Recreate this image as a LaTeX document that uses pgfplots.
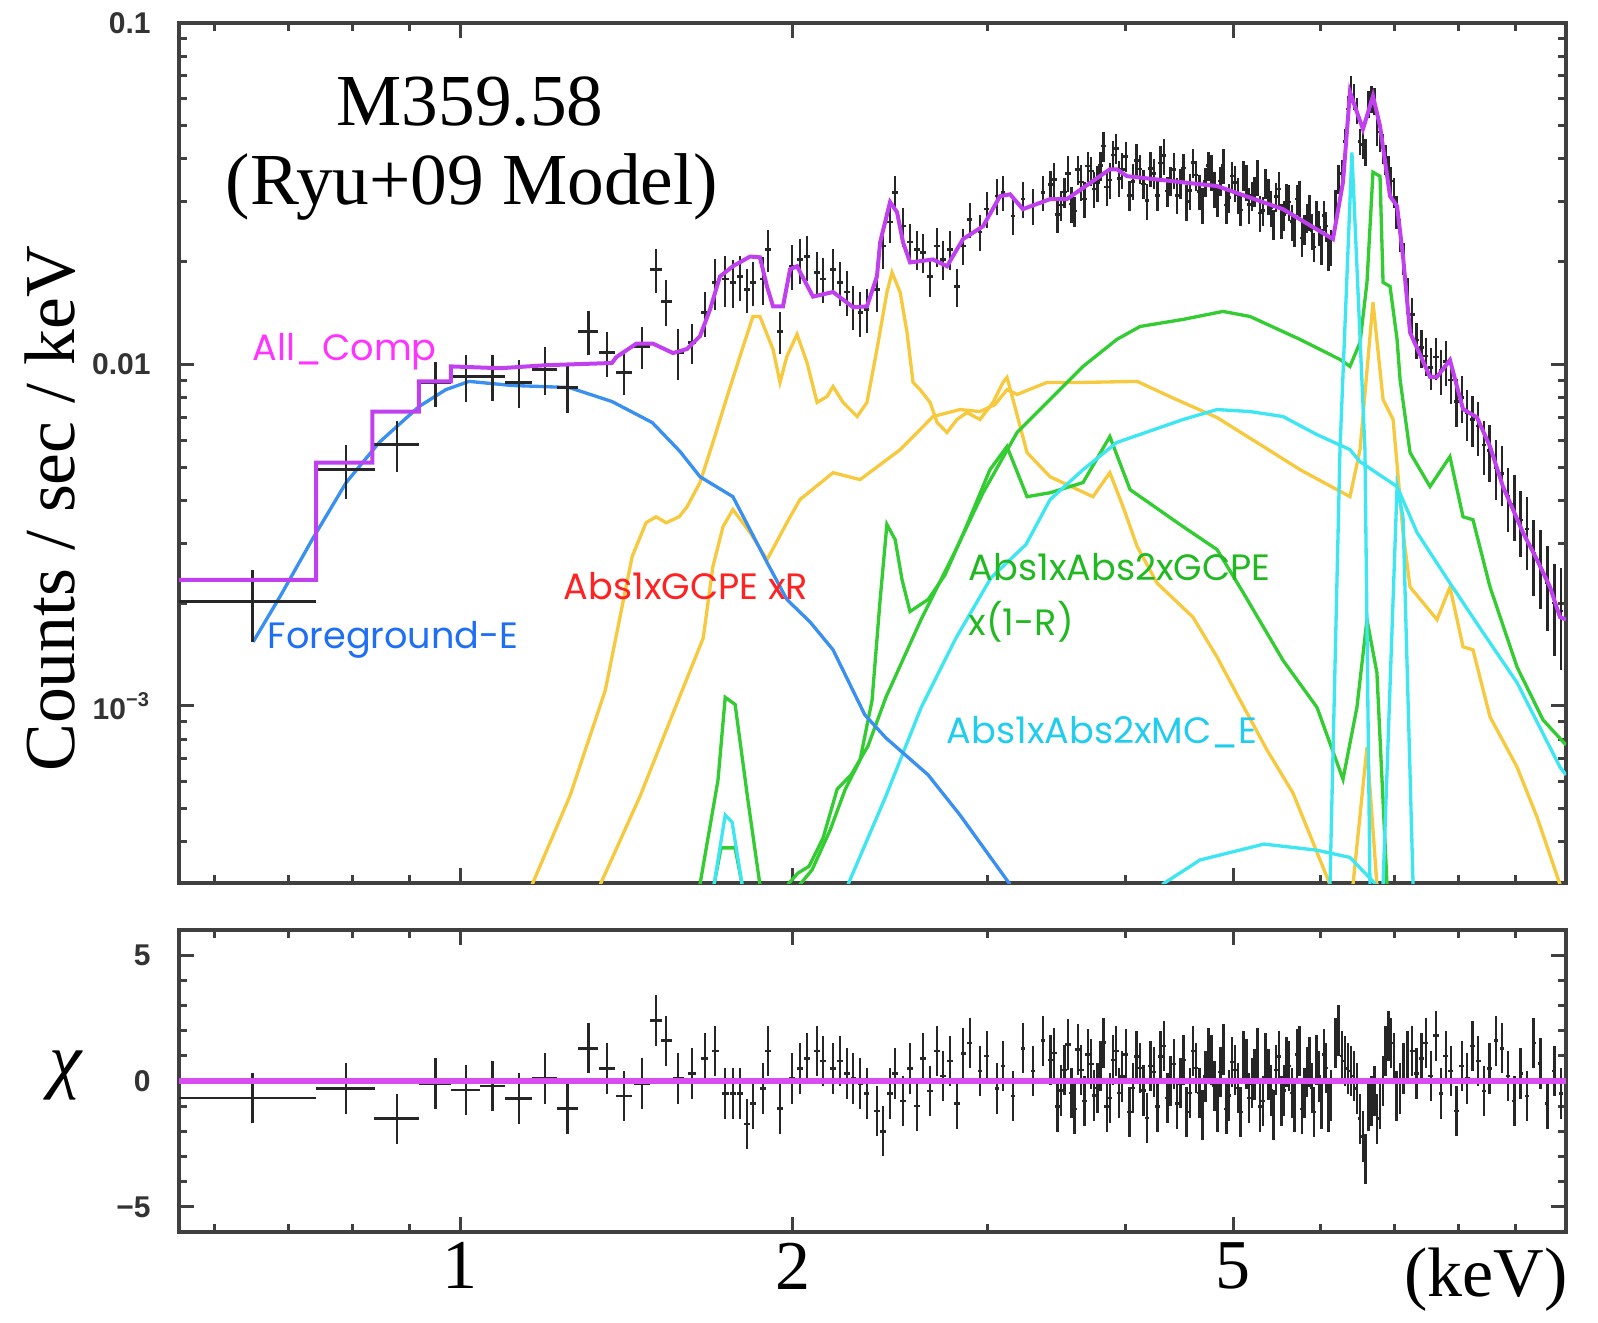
\documentclass[border=0pt]{standalone}
\usepackage{fontspec}
\setmainfont{Liberation Serif}
\newfontfamily\ticksans{Liberation Sans}
\newfontfamily\geo{Poppins}
\usepackage{pgfplots}
\pgfplotsset{compat=1.18}

\definecolor{mdl}{HTML}{C040F0}
\definecolor{mdlres}{HTML}{D94CF0}
\definecolor{lblmag}{HTML}{FF33FF}
\definecolor{fgblue}{HTML}{3A90F0}
\definecolor{fglbl}{HTML}{1F6FF5}
\definecolor{ylw}{HTML}{F7C93E}
\definecolor{grn}{HTML}{33CC33}
\definecolor{grnlbl}{HTML}{22B822}
\definecolor{cyn}{HTML}{3EE6F2}
\definecolor{cynlbl}{HTML}{22CCEE}
\definecolor{redlbl}{HTML}{FF2222}
\definecolor{axgray}{HTML}{404040}

\begin{document}
\begin{tikzpicture}
% ---------------- spectrum ----------------
\begin{axis}[name=top, scale only axis, width=416.1pt, height=258pt,
  xmode=log, xmin=0.557, xmax=10,
  ymode=log, ymin=3.03e-4, ymax=0.1,
  axis line style={line width=1pt, axgray},
  tick style={line width=0.9pt, axgray},
  major tick length=4.5pt, minor tick length=2.5pt,
  tick align=inside, xtick pos=both, ytick pos=both,
  xtick={1,2,5}, xticklabels={},
  minor xtick={0.6,0.7,0.8,0.9,3,4,6,7,8,9},
  ytick={0.001,0.01,0.1}, yticklabels={10\textsuperscript{−3},0.01,0.1},
  minor ytick={4e-4,5e-4,6e-4,7e-4,8e-4,9e-4,2e-3,3e-3,4e-3,5e-3,6e-3,7e-3,8e-3,9e-3,0.02,0.03,0.04,0.05,0.06,0.07,0.08,0.09},
  yticklabel style={font=\ticksans\bfseries\fontsize{9}{10}\selectfont, text=black!80, xshift=-5pt}]

% thermal components (yellow)
\addplot[ylw, line width=1pt] table[x=E,y=C] {
E C
1.162 0.0003
1.257 0.000545
1.353 0.00111
1.431 0.00274
1.473 0.00344
1.504 0.00358
1.536 0.00344
1.578 0.00358
1.604 0.00383
1.648 0.00451
1.693 0.00591
1.744 0.00806
1.791 0.01056
1.840 0.01382
1.867 0.01382
1.919 0.01107
1.947 0.00886
1.975 0.01056
2.017 0.01225
2.059 0.01014
2.103 0.00774
2.147 0.00806
2.174 0.00862
2.220 0.00774
2.286 0.00704
2.333 0.00774
2.382 0.01107
2.432 0.01626
2.458 0.01861
2.500 0.01626
2.536 0.01241
2.568 0.00886
2.606 0.00844
2.661 0.00774
2.700 0.00676
2.756 0.00632
2.814 0.00690
2.873 0.00723
2.952 0.00690
3.033 0.00774
3.097 0.00886
3.123 0.00916
3.162 0.00790
3.256 0.00552
3.416 0.00469
3.735 0.00410
3.869 0.00482
3.977 0.00383
4.095 0.00293
4.268 0.00229
4.599 0.00182
4.836 0.00139
5.073 0.00104
5.366 0.000743
5.664 0.000556
6.118 0.0003
};
\addplot[ylw, line width=1pt] table[x=E,y=C] {
E C
6.418 0.0003
6.608 0.000758
6.746 0.0003
};
\addplot[ylw, line width=1pt] table[x=E,y=C] {
E C
1.339 0.0003
1.455 0.000545
1.565 0.000987
1.659 0.00158
1.693 0.00256
1.729 0.00335
1.765 0.00376
1.829 0.00322
1.895 0.00268
1.975 0.00344
2.029 0.00402
2.174 0.00482
2.300 0.00460
2.500 0.00563
2.677 0.00704
2.832 0.00738
2.952 0.00728
3.046 0.00763
3.123 0.00844
3.189 0.00817
3.394 0.00886
3.659 0.00886
4.095 0.00892
4.403 0.00800
4.836 0.00699
5.289 0.00583
5.748 0.00492
6.378 0.00410
6.513 0.00563
6.691 0.0152
6.833 0.00790
6.977 0.00690
7.123 0.00322
7.228 0.00223
7.646 0.00179
7.855 0.00223
8.070 0.00149
8.239 0.00146
8.537 0.000929
9.031 0.000662
9.414 0.000473
9.876 0.0003
};

% green components
\addplot[grn, line width=1pt] table[x=E,y=C] {
E C
1.979 0.0003
2.021 0.000324
2.068 0.000339
2.129 0.00041
2.193 0.000571
2.257 0.000628
2.338 0.000763
2.427 0.00106
2.611 0.00179
2.808 0.00287
2.971 0.00421
3.189 0.00632
3.416 0.00790
3.659 0.00987
3.926 0.01184
4.120 0.01292
4.506 0.01355
4.896 0.01430
5.180 0.01382
5.748 0.01184
6.247 0.01034
6.378 0.00987
6.513 0.01160
6.608 0.01740
6.691 0.03656
6.790 0.03557
6.833 0.01740
6.933 0.01693
7.035 0.01184
7.079 0.00904
7.228 0.00552
7.535 0.00439
7.855 0.00537
8.070 0.00358
8.239 0.00351
8.537 0.00223
9.031 0.00130
9.533 0.00091
10 0.000769
};
\addplot[grn, line width=1pt] table[x=E,y=C] {
E C
2.029 0.0003
2.081 0.000331
2.161 0.000433
2.229 0.000568
2.300 0.000695
2.358 0.00104
2.398 0.00205
2.432 0.00340
2.474 0.00307
2.510 0.00234
2.552 0.00189
2.650 0.00205
2.745 0.00242
2.861 0.00328
3.014 0.00492
3.123 0.00575
3.256 0.00410
3.416 0.00421
3.659 0.00451
3.869 0.00615
4.035 0.00430
4.506 0.00335
4.836 0.00287
5.105 0.00215
5.548 0.00136
5.955 0.00099
6.286 0.00061
6.471 0.00099
6.608 0.00179
6.746 0.00125
6.890 0.0003
};
\addplot[grn, line width=1pt] table[x=E,y=C] {
E C
1.648 0.0003
1.711 0.000607
1.737 0.00106
1.773 0.00101
1.821 0.00053
1.867 0.0003
};
\addplot[grn, line width=1pt] table[x=E,y=C] {
E C
1.697 0.0003
1.722 0.000384
1.773 0.000384
1.799 0.0003
};

% cyan components
\addplot[cyn, line width=1pt] table[x=E,y=C] {
E C
1.697 0.0003
1.737 0.000479
1.762 0.000457
1.799 0.0003
};
\addplot[cyn, line width=1pt] table[x=E,y=C] {
E C
2.243 0.0003
2.427 0.000545
2.611 0.000987
2.808 0.00158
3.020 0.00237
3.249 0.00297
3.416 0.00402
3.659 0.00492
3.926 0.00591
4.506 0.00690
4.836 0.00738
5.180 0.00728
5.548 0.00704
5.955 0.00623
6.378 0.00563
6.513 0.00519
7.035 0.00439
7.334 0.00322
7.855 0.00229
8.414 0.00164
9.031 0.00117
9.876 0.000662
10 0.000628
};
\addplot[cyn, line width=1pt] table[x=E,y=C] {
E C
6.118 0.0003
6.247 0.00563
6.404 0.0418
6.580 0.00563
6.649 0.0003
};
\addplot[cyn, line width=1pt] table[x=E,y=C] {
E C
6.833 0.0003
7.035 0.00439
7.123 0.00358
7.274 0.0003
};
\addplot[cyn, line width=1pt] table[x=E,y=C] {
E C
4.314 0.0003
4.668 0.000354
5.333 0.000394
5.955 0.000378
6.378 0.00036
6.733 0.0003
};

% foreground component (blue)
\addplot[fgblue, line width=1pt] table[x=E,y=C] {
E C
0.650 0.00154
0.688 0.0021
0.735 0.00307
0.789 0.00451
0.845 0.00591
0.918 0.00753
0.971 0.00844
1.019 0.00892
1.114 0.00868
1.255 0.00856
1.372 0.00779
1.492 0.00676
1.581 0.00556
1.648 0.00469
1.765 0.0041
1.895 0.00263
1.975 0.00205
2.073 0.00176
2.174 0.00146
2.323 0.000941
2.427 0.000806
2.650 0.000628
2.832 0.000479
3.143 0.0003
};

% data (relative y errors), drawn as crosses only
\addplot[draw=none, mark=none,
  error bars/.cd, x dir=both, x explicit, y dir=both, y explicit relative,
  error mark=none, error bar style={draw=black!85, line width=0.75pt}]
  table[x=E,y=C,x error=dE,y error=r] {
E C dE r
0.649 0.00202 0.092 0.24
0.789 0.00492 0.048 0.18
0.877 0.00583 0.041 0.17
0.950 0.00886 0.032 0.15
1.012 0.00922 0.031 0.16
1.070 0.00922 0.027 0.155
1.130 0.00886 0.032 0.16
1.193 0.00967 0.031 0.16
1.251 0.00856 0.027 0.16
1.306 0.0125 0.027 0.15
1.358 0.01084 0.022 0.15
1.407 0.00947 0.022 0.14
1.461 0.0113 0.024 0.14
1.504 0.0190 0.020 0.15
1.536 0.0153 0.018 0.155
1.575 0.01084 0.018 0.17
1.621 0.0116 0.012 0.135
1.665 0.0142 0.012 0.15
1.701 0.0174 0.012 0.17
1.737 0.0178 0.012 0.17
1.765 0.0174 0.012 0.16
1.791 0.0181 0.012 0.15
1.818 0.0166 0.012 0.15
1.840 0.0174 0.012 0.15
1.879 0.0178 0.012 0.16
1.899 0.02174 0.012 0.14
1.947 0.0125 0.012 0.14
1.996 0.0194 0.012 0.15
2.029 0.0203 0.012 0.15
2.059 0.0207 0.012 0.15
2.103 0.0186 0.012 0.15
2.129 0.0178 0.012 0.15
2.174 0.0190 0.012 0.15
2.206 0.0174 0.012 0.15
2.238 0.0163 0.012 0.15
2.267 0.0148 0.012 0.15
2.300 0.0142 0.012 0.15
2.333 0.0145 0.012 0.15
2.382 0.0166 0.015 0.14
2.413 0.0222 0.015 0.14
2.448 0.0261 0.015 0.13
2.474 0.0319 0.015 0.12
2.515 0.0254 0.015 0.13
2.552 0.0228 0.015 0.13
2.590 0.0217 0.015 0.13
2.623 0.0213 0.015 0.13
2.661 0.0181 0.015 0.13
2.700 0.0222 0.015 0.13
2.733 0.0203 0.015 0.13
2.773 0.0217 0.015 0.13
2.814 0.0169 0.015 0.13
2.850 0.0222 0.015 0.12
2.891 0.0266 0.015 0.12
2.952 0.0244 0.015 0.12
2.995 0.0285 0.015 0.12
3.058 0.0311 0.015 0.12
3.097 0.0319 0.015 0.12
3.162 0.0272 0.015 0.12
3.228 0.0305 0.015 0.12
3.297 0.0291 0.015 0.12
3.366 0.0319 0.015 0.12
3.42 0.0336 0.02 0.10
3.445 0.0348 0.02 0.12
3.47 0.0275 0.02 0.12
3.495 0.0293 0.02 0.10
3.52 0.0320 0.02 0.10
3.545 0.0363 0.02 0.12
3.57 0.0295 0.02 0.12
3.595 0.0281 0.02 0.10
3.62 0.0372 0.02 0.10
3.645 0.0342 0.02 0.12
3.67 0.0305 0.02 0.12
3.695 0.0381 0.02 0.10
3.72 0.0369 0.02 0.10
3.745 0.0326 0.02 0.12
3.77 0.0341 0.02 0.12
3.795 0.0382 0.02 0.10
3.82 0.0436 0.02 0.10
3.845 0.0331 0.02 0.12
3.87 0.0347 0.02 0.12
3.895 0.0410 0.02 0.10
3.92 0.0429 0.02 0.10
3.945 0.0351 0.02 0.12
3.97 0.0372 0.02 0.12
4.00 0.0407 0.02 0.10
4.03 0.0313 0.02 0.10
4.06 0.0344 0.02 0.12
4.09 0.0396 0.02 0.12
4.12 0.0374 0.02 0.10
4.15 0.0338 0.02 0.10
4.18 0.0302 0.02 0.12
4.21 0.0375 0.02 0.12
4.24 0.0363 0.02 0.10
4.27 0.0313 0.02 0.10
4.30 0.0389 0.02 0.12
4.33 0.0409 0.02 0.12
4.36 0.0322 0.02 0.10
4.39 0.0345 0.02 0.10
4.42 0.0372 0.02 0.12
4.45 0.0313 0.02 0.12
4.48 0.0340 0.02 0.10
4.51 0.0376 0.02 0.10
4.54 0.0300 0.02 0.12
4.57 0.0323 0.02 0.12
4.60 0.0390 0.02 0.10
4.63 0.0359 0.02 0.10
4.66 0.0321 0.02 0.12
4.69 0.0293 0.02 0.12
4.72 0.0343 0.02 0.10
4.75 0.0382 0.02 0.10
4.78 0.0367 0.02 0.12
4.81 0.0327 0.02 0.12
4.84 0.0300 0.02 0.10
4.87 0.0345 0.02 0.10
4.90 0.0383 0.02 0.12
4.93 0.0293 0.02 0.12
4.96 0.0308 0.02 0.10
4.99 0.0356 0.02 0.10
5.02 0.0341 0.02 0.12
5.05 0.0314 0.02 0.12
5.08 0.0283 0.02 0.10
5.11 0.0358 0.02 0.10
5.14 0.0343 0.02 0.12
5.17 0.0294 0.02 0.12
5.20 0.0312 0.02 0.10
5.23 0.0322 0.02 0.10
5.26 0.0355 0.02 0.12
5.29 0.0278 0.02 0.12
5.32 0.0282 0.02 0.10
5.35 0.0339 0.02 0.10
5.38 0.0311 0.02 0.12
5.41 0.0288 0.02 0.12
5.44 0.0258 0.02 0.10
5.47 0.0310 0.02 0.10
5.50 0.0326 0.02 0.12
5.53 0.0264 0.02 0.12
5.56 0.0274 0.02 0.10
5.59 0.0307 0.02 0.10
5.62 0.0299 0.02 0.12
5.65 0.0262 0.02 0.12
5.68 0.0246 0.02 0.10
5.71 0.0305 0.02 0.10
5.74 0.0307 0.02 0.12
5.77 0.0235 0.02 0.12
5.80 0.0249 0.02 0.10
5.83 0.0269 0.02 0.10
5.86 0.0280 0.02 0.12
5.89 0.0246 0.02 0.12
5.92 0.0221 0.02 0.10
5.95 0.0274 0.02 0.10
5.98 0.0252 0.02 0.12
6.01 0.0222 0.02 0.12
6.04 0.0273 0.02 0.10
6.07 0.0254 0.02 0.10
6.10 0.0213 0.02 0.12
6.13 0.0221 0.02 0.12
6.19 0.0295 0.02 0.10
6.23 0.0350 0.02 0.10
6.27 0.0362 0.02 0.10
6.31 0.0450 0.02 0.09
6.35 0.0560 0.02 0.09
6.39 0.0640 0.02 0.09
6.43 0.0610 0.02 0.09
6.47 0.0555 0.02 0.09
6.51 0.0450 0.02 0.09
6.55 0.0440 0.02 0.09
6.59 0.0420 0.02 0.09
6.63 0.0580 0.02 0.09
6.67 0.0600 0.02 0.09
6.71 0.0590 0.02 0.09
6.75 0.0480 0.02 0.09
6.79 0.0460 0.02 0.09
6.83 0.0430 0.02 0.10
6.87 0.0400 0.02 0.10
6.91 0.0370 0.02 0.10
6.95 0.0345 0.02 0.10
6.99 0.0320 0.02 0.10
7.03 0.0280 0.02 0.11
7.08 0.0240 0.02 0.11
7.13 0.0205 0.02 0.11
7.19 0.0160 0.02 0.12
7.26 0.0140 0.04 0.12
7.33 0.0118 0.04 0.12
7.40 0.0112 0.04 0.13
7.47 0.0106 0.04 0.13
7.55 0.0098 0.04 0.14
7.63 0.0105 0.04 0.14
7.71 0.0096 0.04 0.15
7.79 0.0102 0.04 0.15
7.87 0.0090 0.04 0.15
7.96 0.0078 0.04 0.16
8.05 0.0080 0.04 0.16
8.14 0.0072 0.04 0.17
8.23 0.0069 0.04 0.17
8.33 0.0066 0.04 0.18
8.43 0.0058 0.04 0.18
8.53 0.0056 0.04 0.19
8.64 0.0050 0.04 0.20
8.75 0.0048 0.04 0.20
8.86 0.0041 0.04 0.21
8.98 0.0039 0.04 0.22
9.10 0.0035 0.04 0.22
9.22 0.0033 0.04 0.24
9.35 0.0028 0.04 0.25
9.48 0.0026 0.04 0.26
9.62 0.0023 0.04 0.28
9.76 0.0020 0.04 0.30
9.90 0.0019 0.04 0.33
};

% total model (stepped)
\addplot[mdl, line width=1.2pt] table[x=E,y=C] {
E C
0.557 0.00234
0.741 0.00234
0.741 0.00516
0.833 0.00516
0.833 0.00728
0.918 0.00728
0.918 0.00892
0.981 0.00892
0.981 0.00987
1.087 0.00975
1.196 0.00995
1.372 0.0101
1.384 0.0105
1.443 0.0115
1.495 0.0115
1.558 0.0108
1.604 0.0111
1.648 0.0121
1.683 0.0145
1.718 0.0181
1.765 0.0194
1.829 0.0207
1.867 0.0206
1.895 0.0169
1.919 0.0148
1.959 0.0148
1.988 0.0190
2.017 0.0194
2.085 0.0158
2.174 0.0163
2.267 0.0147
2.333 0.0148
2.382 0.0181
2.398 0.0228
2.448 0.0299
2.484 0.0279
2.515 0.0228
2.552 0.0199
2.677 0.0203
2.756 0.0194
2.850 0.0233
2.971 0.0254
3.078 0.0311
3.143 0.0315
3.228 0.0285
3.416 0.0305
3.538 0.0305
3.869 0.0373
3.926 0.0373
4.009 0.0356
4.836 0.0333
5.548 0.0285
6.156 0.0233
6.286 0.0342
6.378 0.0628
6.471 0.0548
6.553 0.0489
6.691 0.0611
6.790 0.0499
6.933 0.0311
7.035 0.0291
7.123 0.0207
7.228 0.0124
7.535 0.0092
7.646 0.0092
7.855 0.0103
8.070 0.0074
8.308 0.0070
8.537 0.00575
8.770 0.00439
9.144 0.00322
9.414 0.00268
9.672 0.00223
9.876 0.00182
10 0.00179
};
\end{axis}

% ---------------- residuals ----------------
\begin{axis}[name=bot, scale only axis, width=416.1pt, height=90.6pt,
  at={(top.south west)}, anchor=north west, yshift=-14.1pt,
  xmode=log, xmin=0.557, xmax=10,
  ymin=-6, ymax=6,
  axis line style={line width=1pt, axgray},
  tick style={line width=0.9pt, axgray},
  major tick length=4.5pt, minor tick length=2.5pt,
  tick align=inside, xtick pos=both, ytick pos=both,
  xtick={1,2,5}, xticklabels={1,2,5},
  minor xtick={0.6,0.7,0.8,0.9,3,4,6,7,8,9},
  ytick={-5,0,5}, yticklabels={−5,0,5},
  minor ytick={-4,-3,-2,-1,1,2,3,4},
  yticklabel style={font=\ticksans\bfseries\fontsize{9}{10}\selectfont, text=black!80, xshift=-5pt},
  xticklabel style={font=\fontsize{21}{24}\selectfont, text=black, inner sep=0pt, yshift=-3pt}]
\addplot[draw=none, mark=none,
  error bars/.cd, x dir=both, x explicit, y dir=both, y fixed=1,
  error mark=none, error bar style={draw=black!85, line width=0.75pt}]
  table[x=E,y=R,x error=dE] {
E R dE
0.649 -0.67 0.092
0.789 -0.3 0.048
0.877 -1.5 0.041
0.950 -0.1 0.032
1.012 -0.35 0.031
1.070 -0.2 0.027
1.130 -0.7 0.032
1.193 0.1 0.031
1.251 -1.1 0.027
1.306 1.3 0.027
1.358 0.5 0.022
1.407 -0.6 0.022
1.461 -0.1 0.024
1.504 2.4 0.020
1.536 1.6 0.018
1.575 0.1 0.018
1.621 0.3 0.012
1.665 0.9 0.012
1.701 1.2 0.012
1.737 -0.5 0.012
1.765 -0.5 0.012
1.791 -0.5 0.012
1.818 -1.7 0.012
1.840 -0.9 0.012
1.879 -0.3 0.012
1.899 1.2 0.012
1.947 -1.1 0.012
1.996 0.1 0.012
2.029 0.5 0.012
2.059 0.9 0.012
2.103 1.2 0.012
2.129 0.8 0.012
2.174 0.5 0.012
2.206 0.8 0.012
2.238 0.3 0.012
2.267 0.1 0.012
2.300 -0.1 0.012
2.333 -0.5 0.012
2.382 -1.2 0.015
2.413 -2.0 0.015
2.448 -0.5 0.015
2.474 0.3 0.015
2.515 -0.8 0.015
2.552 0.5 0.015
2.590 -1.0 0.015
2.623 0.9 0.015
2.661 -0.4 0.015
2.700 1.2 0.015
2.733 0.2 0.015
2.773 0.8 0.015
2.814 -0.9 0.015
2.850 1.1 0.015
2.891 1.5 0.015
2.952 0.4 0.015
2.995 1.0 0.015
3.058 -0.3 0.015
3.097 0.6 0.015
3.162 -0.6 0.015
3.228 1.3 0.015
3.297 0.4 0.015
3.366 1.6 0.015
3.42 0.83 0.02
3.445 1.12 0.02
3.47 -1.01 0.02
3.495 -0.38 0.02
3.52 0.43 0.02
3.545 1.45 0.02
3.57 -0.48 0.02
3.595 -1.12 0.02
3.62 1.25 0.02
3.645 0.43 0.02
3.67 -0.79 0.02
3.695 1.05 0.02
3.72 0.67 0.02
3.745 -0.58 0.02
3.77 -0.28 0.02
3.795 0.59 0.02
3.82 1.52 0.02
3.845 -1.01 0.02
3.87 -0.68 0.02
3.895 0.83 0.02
3.92 1.19 0.02
3.945 -0.48 0.02
3.97 0.18 0.02
4.00 1.05 0.02
4.03 -1.24 0.02
4.06 -0.28 0.02
4.09 0.97 0.02
4.12 0.51 0.02
4.15 -0.38 0.02
4.18 -1.48 0.02
4.21 0.59 0.02
4.24 0.35 0.02
4.27 -1.01 0.02
4.30 0.97 0.02
4.33 1.39 0.02
4.36 -0.68 0.02
4.39 0.0 0.02
4.42 0.67 0.02
4.45 -0.90 0.02
4.48 -0.09 0.02
4.51 0.83 0.02
4.54 -1.24 0.02
4.57 -0.48 0.02
4.60 1.19 0.02
4.63 0.51 0.02
4.66 -0.48 0.02
4.69 -1.36 0.02
4.72 0.18 0.02
4.75 1.12 0.02
4.78 0.83 0.02
4.81 -0.19 0.02
4.84 -1.01 0.02
4.87 0.35 0.02
4.90 1.25 0.02
4.93 -1.12 0.02
4.96 -0.58 0.02
4.99 0.75 0.02
5.02 0.43 0.02
5.05 -0.28 0.02
5.08 -1.24 0.02
5.11 0.97 0.02
5.14 0.67 0.02
5.17 -0.68 0.02
5.20 -0.09 0.02
5.23 0.26 0.02
5.26 1.12 0.02
5.29 -1.01 0.02
5.32 -0.79 0.02
5.35 0.90 0.02
5.38 0.26 0.02
5.41 -0.38 0.02
5.44 -1.36 0.02
5.47 0.43 0.02
5.50 0.97 0.02
5.53 -0.79 0.02
5.56 -0.38 0.02
5.59 0.75 0.02
5.62 0.59 0.02
5.65 -0.48 0.02
5.68 -1.01 0.02
5.71 1.05 0.02
5.74 1.19 0.02
5.77 -1.12 0.02
5.80 -0.48 0.02
5.83 0.35 0.02
5.86 0.75 0.02
5.89 -0.28 0.02
5.92 -1.24 0.02
5.95 0.83 0.02
5.98 0.18 0.02
6.01 -0.90 0.02
6.04 1.05 0.02
6.07 0.51 0.02
6.10 -1.01 0.02
6.13 -0.58 0.02
6.19 1.5 0.02
6.23 2.0 0.02
6.27 1.0 0.02
6.31 0.8 0.02
6.35 0.5 0.02
6.39 0.4 0.02
6.43 0.2 0.02
6.47 -0.3 0.02
6.51 -1.5 0.02
6.55 -2.2 0.02
6.59 -3.1 0.02
6.63 -1.0 0.02
6.67 -0.8 0.02
6.71 -0.4 0.02
6.75 -1.5 0.02
6.79 -0.9 0.02
6.83 0.0 0.02
6.87 1.2 0.02
6.91 1.8 0.02
6.95 1.5 0.02
6.99 0.9 0.02
7.03 -0.6 0.02
7.08 -0.3 0.02
7.13 0.5 0.02
7.19 1.0 0.02
7.26 1.2 0.04
7.33 0.3 0.04
7.40 0.9 0.04
7.47 1.5 0.04
7.55 0.2 0.04
7.63 1.8 0.04
7.71 -0.5 0.04
7.79 1.0 0.04
7.87 0.4 0.04
7.96 -1.2 0.04
8.05 0.6 0.04
8.14 0.1 0.04
8.23 1.4 0.04
8.33 0.8 0.04
8.43 -0.4 0.04
8.53 0.5 0.04
8.64 1.6 0.04
8.75 1.3 0.04
8.86 0.2 0.04
8.98 -0.8 0.04
9.10 0.3 0.04
9.22 -0.6 0.04
9.35 1.5 0.04
9.48 0.7 0.04
9.62 -0.9 0.04
9.76 0.4 0.04
9.90 -0.5 0.04
};
\addplot[mdlres, line width=1.6pt] coordinates {(0.557,0) (10,0)};
\end{axis}

% labels
\node[font=\fontsize{22}{24}\selectfont] at ([xshift=87.3pt,yshift=-23.7pt]top.north west) {M359.58};
\node[font=\fontsize{22}{24}\selectfont] at ([xshift=87.9pt,yshift=-49.2pt]top.north west) {(Ryu+09 Model)};
\node[font=\geo\fontsize{11}{12}\selectfont, text=lblmag, anchor=west, inner sep=0pt] at ([xshift=21.9pt,yshift=-98.7pt]top.north west) {All\_Comp};
\node[font=\geo\fontsize{11}{12}\selectfont, text=fglbl, anchor=west, inner sep=0pt] at ([xshift=26.4pt,yshift=-185.1pt]top.north west) {Foreground-E};
\node[font=\geo\fontsize{11}{12}\selectfont, text=redlbl, anchor=west, inner sep=0pt] at ([xshift=115.2pt,yshift=-168.9pt]top.north west) {Abs1xGCPE xR};
\node[font=\geo\fontsize{11}{12}\selectfont, text=grnlbl, anchor=west, inner sep=0pt] at ([xshift=236.7pt,yshift=-163.2pt]top.north west) {Abs1xAbs2xGCPE};
\node[font=\geo\fontsize{11}{12}\selectfont, text=grnlbl, anchor=west, inner sep=0pt] at ([xshift=236.7pt,yshift=-179.7pt]top.north west) {x(1-R)};
\node[font=\geo\fontsize{11}{12}\selectfont, text=cynlbl, anchor=west, inner sep=0pt] at ([xshift=230.1pt,yshift=-212.7pt]top.north west) {Abs1xAbs2xMC\_E};
\node[rotate=90, font=\fontsize{21.5}{24}\selectfont] at ([xshift=-38.7pt,yshift=-145.8pt]top.north west) {Counts / sec / keV};
\node[font=\itshape\fontsize{22}{24}\selectfont] at ([xshift=-33.9pt,yshift=-43.5pt]bot.north west) {χ};
\node[font=\fontsize{21}{24}\selectfont] at ([xshift=-24pt,yshift=-14.4pt]bot.south east) {(keV)};

% page frame
\path ([xshift=-53.7pt,yshift=6.9pt]top.north west) rectangle ([xshift=9.6pt,yshift=-25.5pt]bot.south east);
\end{tikzpicture}
\end{document}
